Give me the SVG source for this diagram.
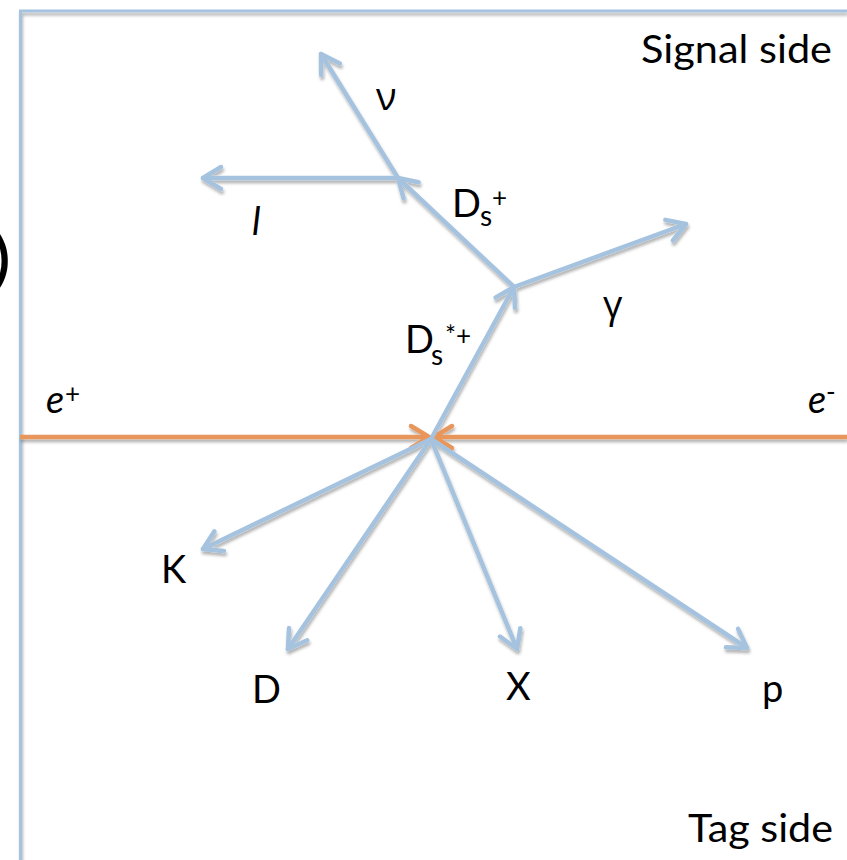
<svg xmlns="http://www.w3.org/2000/svg" width="847" height="860" viewBox="0 0 847 860">
<style>
.t{font-family:Lato,"Open Sans","DejaVu Sans",sans-serif;fill:#000;font-size:38px}
.g{font-family:"Open Sans","DejaVu Sans",sans-serif;fill:#000;font-size:38px}
.i{font-style:italic}
.sub{font-size:28px}
.sup{font-size:26px}
.blue{stroke:#a5c3df;stroke-width:4.5;fill:none;stroke-linecap:round}
.orange{stroke:#e8965c;stroke-width:4.5;fill:none}
</style>
<defs>
<filter id="sh" x="-10%" y="-10%" width="120%" height="130%">
<feDropShadow dx="1" dy="3" stdDeviation="1.6" flood-color="#000" flood-opacity="0.3"/>
</filter>
<marker id="ab" markerUnits="userSpaceOnUse" markerWidth="40" markerHeight="40" viewBox="-25 -20 30 40" refX="0" refY="0" orient="auto" overflow="visible">
<path d="M-18,-11 L0,0 L-18,11" fill="none" stroke="#a5c3df" stroke-width="4.5" stroke-linecap="round" stroke-linejoin="round"/>
</marker>
<marker id="ao" markerUnits="userSpaceOnUse" markerWidth="40" markerHeight="40" viewBox="-25 -20 30 40" refX="0" refY="0" orient="auto" overflow="visible">
<path d="M-18,-11 L0,0 L-18,11" fill="none" stroke="#e8965c" stroke-width="4.5" stroke-linecap="round" stroke-linejoin="round"/>
</marker>
</defs>
<rect width="847" height="860" fill="#fff"/>
<g id="frame" filter="url(#sh)">
<path d="M20.5,860 V11 H847" fill="none" stroke="#a5c3df" stroke-width="3"/>
</g>
<text class="t" x="10" y="279" style="font-size:58px;font-weight:bold" text-anchor="end">)</text>
<g id="connectors" filter="url(#sh)">
<line class="orange" x1="20" y1="437" x2="429" y2="437" marker-end="url(#ao)"/>
<line class="orange" x1="847" y1="437" x2="434" y2="437" marker-end="url(#ao)"/>
<line class="blue" x1="431" y1="439" x2="514" y2="287" marker-end="url(#ab)"/>
<line class="blue" x1="514" y1="287" x2="686" y2="224" marker-end="url(#ab)"/>
<line class="blue" x1="514" y1="287" x2="398" y2="178" marker-end="url(#ab)"/>
<line class="blue" x1="398" y1="178" x2="203" y2="178" marker-end="url(#ab)"/>
<line class="blue" x1="398" y1="178" x2="321" y2="54" marker-end="url(#ab)"/>
<line class="blue" x1="431" y1="439" x2="203" y2="549" marker-end="url(#ab)"/>
<line class="blue" x1="431" y1="439" x2="288" y2="649" marker-end="url(#ab)"/>
<line class="blue" x1="431" y1="439" x2="517" y2="649" marker-end="url(#ab)"/>
<line class="blue" x1="431" y1="439" x2="747" y2="648" marker-end="url(#ab)"/>
</g>
<g id="signal-side"><text class="t" x="641" y="63" textLength="191" lengthAdjust="spacingAndGlyphs">Signal side</text></g>
<g id="tag-side"><text class="t" x="688" y="842" textLength="145" lengthAdjust="spacingAndGlyphs">Tag side</text></g>
<g id="nu"><text class="g" x="376" y="110">ν</text></g>
<g id="lepton"><text class="t i" x="252" y="235">l</text></g>
<g id="ds"><text class="t" x="452" y="217">D</text><text class="t sub" x="480" y="226">s</text><text class="t sup" x="492" y="207">+</text></g>
<g id="dsstar"><text class="t" x="405" y="353">D</text><text class="t sub" x="431" y="365">s</text><text class="t sup" x="445" y="345">*+</text></g>
<g id="gamma"><text class="g" x="603" y="318">γ</text></g>
<g id="eplus"><text class="t i" x="46" y="413">e</text><text class="t sup" x="65" y="403">+</text></g>
<g id="eminus"><text class="t i" x="808" y="413">e</text><text class="t sup" x="826" y="401">-</text></g>
<g id="K"><text class="t" x="161" y="583">K</text></g>
<g id="D"><text class="t" x="252" y="703">D</text></g>
<g id="X"><text class="t" x="506" y="700">X</text></g>
<g id="p"><text class="t" x="762" y="702">p</text></g>
</svg>
